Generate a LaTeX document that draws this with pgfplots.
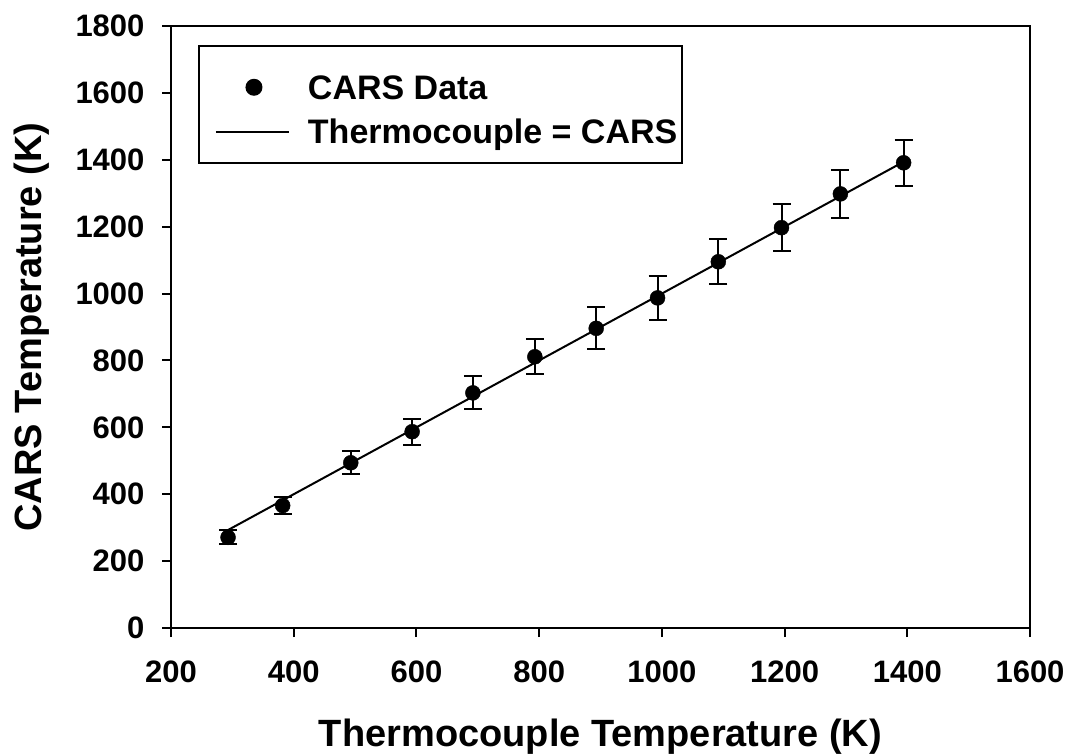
\documentclass[border=0pt]{standalone}
\usepackage{fontspec}
\setmainfont{Liberation Sans}
\usepackage{pgfplots}
\usepackage{pgfplotstable}
\pgfplotsset{compat=1.18}
\pgfplotstableread{
x y e
293 271 21
382 366 25
493 494 35
593 587 39
692 703 49
793 811 53
893 896 63
993 987 65
1092 1095 67
1195 1197 70
1291 1298 72
1394 1391 69
}\carsdata
\begin{document}
\begin{tikzpicture}
\useasboundingbox (-171pt,-127pt) rectangle (899pt,628pt);
\begin{axis}[
  at={(0pt,0pt)}, anchor=south west,
  scale only axis, width=859pt, height=602pt,
  xmin=200, xmax=1600, ymin=0, ymax=1800,
  xtick={200,400,...,1600}, ytick={0,200,...,1800},
  axis line style={line width=2pt},
  every tick/.style={line width=2pt, black},
  tick align=outside, major tick length=9pt,
  xtick pos=left, ytick pos=left,
  /pgf/number format/assume math mode=true,
  /pgf/number format/set thousands separator={},
  ticklabel style={font=\fontsize{31}{36}\selectfont\bfseries},
  xticklabel style={yshift=-20pt},
  yticklabel style={xshift=-14pt},
  xlabel={Thermocouple Temperature (K)},
  ylabel={CARS Temperature (K)},
  label style={font=\fontsize{38}{44}\selectfont\bfseries},
  xlabel style={at={(axis description cs:0.5,-0.1811)}, anchor=center},
  ylabel style={at={(axis description cs:-0.1618,0.5)}, anchor=center},
  legend cell align=left,
  legend style={at={(axis description cs:0.0314,0.9684)}, anchor=north west,
    draw=black, line width=2pt, inner xsep=3pt, inner ysep=16pt,
    font=\fontsize{34}{40}\selectfont\bfseries,
    row sep=14pt,
    nodes={inner sep=2pt}},
]
\addplot[only marks, mark=*, mark size=7.5pt, black,
  legend image code/.code={\path[draw=none] (0pt,0pt) -- (104pt,0pt); \fill[black] (52pt,-5pt) circle (7.5pt);},
  error bars/.cd, y dir=both, y explicit,
  error bar style={line width=2pt, black},
  error mark options={rotate=90, mark size=9pt, line width=2pt, black}]
  table[x=x, y=y, y error=e] {\carsdata};
\addlegendentry{\rule{0pt}{35pt}CARS Data}
\addplot[black, line width=2pt, no marks,
  legend image code/.code={\path[draw=none] (0pt,0pt) -- (104pt,0pt); \draw[line width=2pt, black] (14pt,0pt) -- (87pt,0pt);}]
  coordinates {(293,293) (1394,1394)};
\addlegendentry{Thermocouple = CARS}
\end{axis}
\end{tikzpicture}
\end{document}
